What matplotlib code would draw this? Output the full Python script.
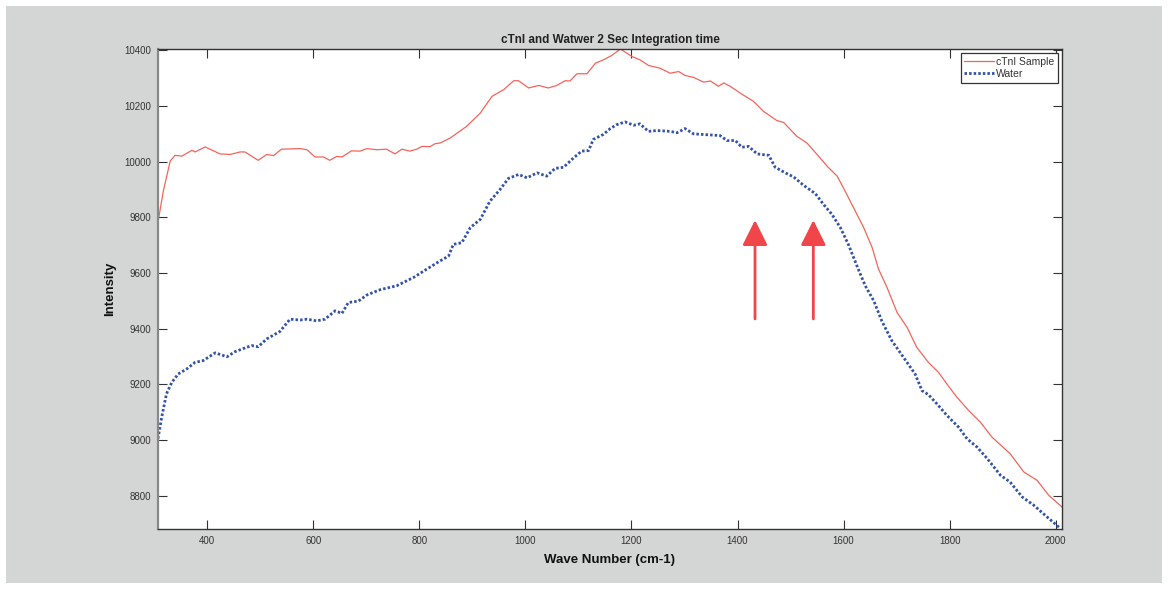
"""
Raman-type spectrum: cTnI sample vs water, 2 s integration time.
"""

import matplotlib.pyplot as plt
from matplotlib.patches import Rectangle

plt.rcParams['font.family'] = ['Liberation Sans', 'DejaVu Sans']

# -----------------------------------------------------------------------------
# Data
# -----------------------------------------------------------------------------

red_x = [307, 317, 330, 339, 352, 371, 377, 396, 424, 443, 462, 471, 496, 512,
         525, 540, 575, 588, 603, 619, 631, 644, 654, 672, 688, 701, 720, 738,
         754, 767, 782, 795, 805, 820, 830, 839, 858, 889, 915, 937, 959, 978,
         987, 1006, 1025, 1043, 1059, 1075, 1084, 1097, 1116, 1132, 1147, 1163,
         1179, 1201, 1216, 1232, 1254, 1273, 1289, 1301, 1317, 1336, 1349,
         1364, 1374, 1386, 1408, 1430, 1449, 1474, 1487, 1512, 1531, 1550,
         1569, 1588, 1603, 1622, 1638, 1654, 1666, 1682, 1701, 1720, 1738,
         1760, 1779, 1795, 1814, 1836, 1858, 1880, 1914, 1940, 1965, 1987, 2012]
red_y = [9783, 9894, 10002, 10023, 10020, 10041, 10035, 10053, 10028, 10026,
         10035, 10035, 10005, 10026, 10022, 10045, 10047, 10043, 10017, 10017,
         10005, 10019, 10017, 10039, 10038, 10047, 10043, 10045, 10028, 10045,
         10038, 10045, 10055, 10054, 10065, 10067, 10085, 10127, 10175, 10235,
         10259, 10291, 10291, 10265, 10274, 10265, 10274, 10291, 10290, 10316,
         10316, 10354, 10366, 10382, 10405, 10378, 10366, 10346, 10336, 10318,
         10324, 10310, 10303, 10286, 10290, 10271, 10283, 10271, 10243, 10217,
         10181, 10148, 10141, 10091, 10067, 10026, 9984, 9948, 9894, 9823,
         9763, 9691, 9614, 9548, 9458, 9404, 9333, 9279, 9243, 9201, 9153,
         9106, 9064, 9010, 8951, 8885, 8855, 8801, 8759]

blue_x = [307, 314, 323, 333, 345, 361, 377, 392, 415, 437, 452, 474, 484, 496,
          512, 537, 556, 575, 588, 606, 622, 641, 654, 666, 685, 701, 726, 757,
          789, 814, 836, 855, 864, 880, 896, 915, 933, 952, 968, 987, 1003,
          1022, 1040, 1056, 1072, 1091, 1106, 1119, 1128, 1147, 1160, 1172,
          1188, 1204, 1216, 1232, 1248, 1273, 1286, 1301, 1317, 1342, 1367,
          1380, 1396, 1408, 1421, 1437, 1459, 1471, 1490, 1506, 1524, 1547,
          1562, 1578, 1594, 1609, 1629, 1641, 1657, 1672, 1691, 1713, 1735,
          1748, 1760, 1776, 1795, 1817, 1833, 1852, 1871, 1896, 1914, 1937,
          1959, 1984, 2009]
blue_y = [9005, 9082, 9166, 9207, 9237, 9255, 9279, 9285, 9313, 9299, 9317,
          9333, 9339, 9335, 9363, 9390, 9434, 9431, 9434, 9428, 9434, 9464,
          9455, 9494, 9499, 9521, 9540, 9554, 9584, 9614, 9640, 9661, 9703,
          9709, 9763, 9793, 9858, 9900, 9940, 9954, 9942, 9960, 9948, 9976,
          9980, 10014, 10038, 10040, 10080, 10098, 10119, 10133, 10143, 10131,
          10136, 10109, 10112, 10109, 10104, 10119, 10100, 10097, 10094, 10076,
          10076, 10052, 10055, 10028, 10023, 9980, 9960, 9945, 9916, 9885,
          9847, 9811, 9763, 9703, 9608, 9554, 9500, 9428, 9357, 9297, 9237,
          9177, 9163, 9130, 9088, 9046, 9004, 8974, 8933, 8873, 8849, 8795,
          8765, 8723, 8682]

# Arrow markers (wave number, tail intensity, head intensity)
arrow_x = [1433, 1543]
arrow_tail = [9435, 9435]
arrow_head = [9790, 9790]

xticks = [400, 600, 800, 1000, 1200, 1400, 1600, 1800, 2000]
yticks = [8800, 9000, 9200, 9400, 9600, 9800, 10000, 10200, 10400]

# -----------------------------------------------------------------------------
# Figure
# -----------------------------------------------------------------------------

fig = plt.figure(figsize=(11.68, 5.89), dpi=100, facecolor='white')
fig.patches.append(Rectangle((6/1168, 6/589), 1156/1168, 577/589,
                             transform=fig.transFigure, facecolor='#d4d6d5',
                             edgecolor='none', zorder=-10))

ax = fig.add_axes([158/1168, 1 - 529/589, 904/1168, 480/589])
ax.set_zorder(1)
ax.set_facecolor('white')

l0, = ax.plot(red_x, red_y, color='#f4645c', lw=0.9, label='cTnI Sample')
l1, = ax.plot(blue_x, blue_y, color='#3352aa', lw=2.0, dashes=(0.9, 0.75),
              label='Water')

for x, y0, y1 in zip(arrow_x, arrow_tail, arrow_head):
    ax.annotate('', xy=(x, y1), xytext=(x, y0),
                arrowprops=dict(arrowstyle='-|>,head_length=1.1,head_width=0.55',
                                color='#f0464a', lw=2, mutation_scale=14,
                                shrinkA=0, shrinkB=0))

ax.set_xlim(307, 2012)
ax.set_ylim(8680, 10405)
ax.set_xticks(xticks)
ax.set_yticks(yticks)
ax.tick_params(direction='in', length=6.5, width=0.8, labelsize=7,
               colors='#333333', top=True, right=True, pad=5)
for s in ax.spines.values():
    s.set_color('#333333')
    s.set_linewidth(1)
ax.spines['left'].set_color('#888888')
ax.spines['left'].set_linewidth(1.6)

ax.set_title('cTnI and Watwer 2 Sec Integration time', fontsize=8.5,
             fontweight='bold', color='#222222', pad=4)
ax.set_xlabel('Wave Number (cm-1)', fontsize=9.5, fontweight='bold',
              color='#111111', labelpad=6)
ax.set_ylabel('Intensity', fontsize=9.5, fontweight='bold', color='#111111',
              labelpad=6)

leg = ax.legend(handles=[l0, l1], loc='upper right', fontsize=7.5,
                handlelength=2.9, handletextpad=0.15, borderpad=0.35,
                labelspacing=0.2, fancybox=False, framealpha=1,
                borderaxespad=0.4)
leg.get_frame().set_edgecolor('#333333')
leg.get_frame().set_linewidth(0.9)
for t in leg.get_texts():
    t.set_color('#333333')

fig.savefig('out.png', dpi=100, facecolor=fig.get_facecolor())
